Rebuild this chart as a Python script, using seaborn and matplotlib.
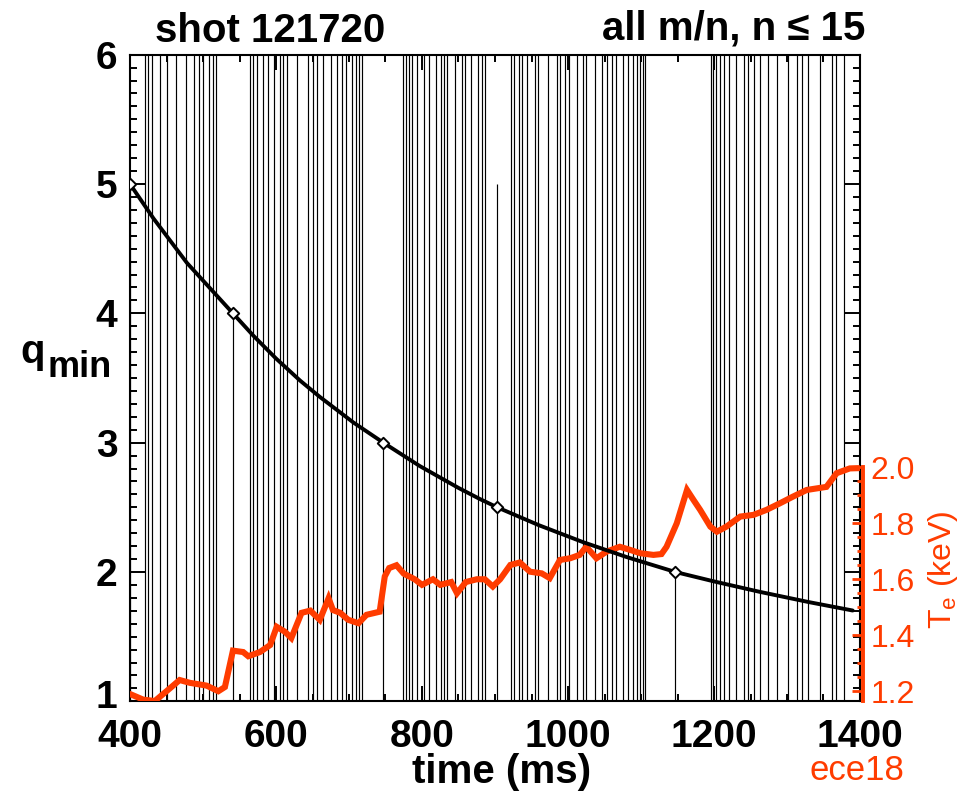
import numpy as np
import matplotlib
matplotlib.use("Agg")
import matplotlib.pyplot as plt
import matplotlib.transforms as mtransforms
import seaborn as sns
from matplotlib.ticker import MultipleLocator, FixedLocator
from math import gcd

# ---------------- data ----------------
# q_min(t) curve
q_time = [400, 432, 478, 541, 569, 600, 633, 660, 706, 747, 797, 850, 879, 903,
          960, 1020, 1080, 1147, 1200, 1263, 1330, 1390]
q_vals = [5.0, 4.735, 4.39, 4.0, 3.827, 3.651, 3.48, 3.354, 3.156, 3.0, 2.819,
          2.65, 2.565, 2.5, 2.362, 2.232, 2.116, 2.0, 1.927, 1.846, 1.767, 1.702]

# marked low-order rational surfaces on the curve
diamond_time = [400, 541, 747, 903, 1147]
diamond_q = [5.0, 4.0, 3.0, 2.5, 2.0]

# rational surfaces m/n drawn as vertical lines ("all m/n, n <= 15")
mode_n_max = 15
mode_m_max = 30

# electron temperature trace (ece18)
te_time = [400, 418, 434, 450, 468, 482, 505, 521, 530, 541,
           555, 562, 578, 592, 601, 612, 621, 635, 647, 660,
           672, 678, 688, 699, 713, 724, 742, 749, 755, 765,
           775, 790, 800, 815, 825, 840, 848, 860, 875, 886,
           897, 907, 921, 934, 948, 964, 975, 989, 1003, 1016,
           1025, 1039, 1053, 1071, 1085, 1099, 1117, 1128, 1135, 1149,
           1163, 1172, 1181, 1195, 1204, 1217, 1236, 1254, 1272, 1290,
           1308, 1327, 1354, 1368, 1386, 1398]
te_vals = [1.19, 1.17, 1.165, 1.20, 1.24, 1.23, 1.22, 1.20, 1.215, 1.345,
           1.34, 1.325, 1.34, 1.365, 1.43, 1.413, 1.39, 1.48, 1.488, 1.455,
           1.532, 1.49, 1.48, 1.455, 1.443, 1.473, 1.484, 1.61, 1.64, 1.65,
           1.62, 1.60, 1.58, 1.60, 1.58, 1.59, 1.55, 1.59, 1.60, 1.60,
           1.574, 1.60, 1.651, 1.66, 1.627, 1.621, 1.604, 1.669, 1.675, 1.687,
           1.716, 1.675, 1.699, 1.716, 1.705, 1.693, 1.687, 1.69, 1.716, 1.80,
           1.919, 1.883, 1.848, 1.788, 1.77, 1.788, 1.824, 1.83, 1.848, 1.871,
           1.895, 1.919, 1.93, 1.979, 1.996, 1.997]

x_ticks = [400, 600, 800, 1000, 1200, 1400]
q_ticks = [1, 2, 3, 4, 5, 6]
te_ticks = [1.2, 1.4, 1.6, 1.8, 2.0]
te_tick_labels = ["1.2", "1.4", "1.6", "1.8", "2.0"]

ORANGE = "#ff3c00"

# ---------------- style ----------------
sns.set_style("ticks")
plt.rcParams["font.family"] = ["Liberation Sans", "DejaVu Sans"]
plt.rcParams["mathtext.default"] = "regular"
for key in ("text.color", "axes.labelcolor", "xtick.color", "ytick.color",
            "axes.edgecolor"):
    plt.rcParams[key] = "black"

W, H = 967, 794
fig = plt.figure(figsize=(W / 100, H / 100), dpi=100)
L, R, B, T = 130 / W, 860 / W, 1 - 701.3 / H, 1 - 54.7 / H
ax = fig.add_axes([L, B, R - L, T - B])
ax2 = ax.twinx()
ax3 = fig.add_axes([L, B, R - L, T - B], sharex=ax, sharey=ax)

# ---------------- vertical rational-surface lines ----------------
modes = [(m, n) for n in range(1, mode_n_max + 1)
         for m in range(1, mode_m_max + 1) if gcd(m, n) == 1]
mode_q = np.array([m / n for m, n in modes])
mode_m = np.array([m for m, n in modes])
sel = (mode_q >= min(q_vals)) & (mode_q <= max(q_vals))
mode_t = np.interp(mode_q[sel], q_vals[::-1], q_time[::-1])
mode_top = np.minimum(mode_m[sel], 6)
ax.vlines(mode_t, 1, mode_top, color="black", lw=0.85, zorder=1)

# ---------------- Te trace ----------------
sns.lineplot(x=te_time, y=te_vals, ax=ax2, color=ORANGE, lw=4.4,
             estimator=None, sort=False)
ax2.lines[-1].set_solid_joinstyle("miter")

# ---------------- q_min curve ----------------
sns.lineplot(x=q_time, y=q_vals, ax=ax3, color="black", lw=2.8,
             estimator=None, sort=False)
sns.scatterplot(x=diamond_time, y=diamond_q, ax=ax3, marker="D", s=34,
                color="white", edgecolor="black", linewidth=1.4, zorder=5)
ax3.patch.set_visible(False)
ax3.set_axis_off()

# ---------------- limits ----------------
ax.set_xlim(400, 1400)
ax.set_ylim(1, 6)
ax2.set_ylim(1.164, 3.474)
for a in (ax, ax2, ax3):
    a.set_xlabel("")
    a.set_ylabel("")

# ---------------- main axis ticks ----------------
ax.xaxis.set_major_locator(FixedLocator(x_ticks))
ax.xaxis.set_minor_locator(MultipleLocator(50))
ax.yaxis.set_major_locator(FixedLocator(q_ticks))
ax.yaxis.set_minor_locator(MultipleLocator(0.1))
ax.tick_params(which="both", direction="in", top=True, right=True,
               bottom=True, left=True, labelright=False, labeltop=False,
               width=1.4, color="black", labelcolor="black")
ax.tick_params(which="major", length=11, labelsize=28)
ax.tick_params(which="minor", length=5)
ax.tick_params(axis="y", which="major", pad=9)
ax.tick_params(axis="x", which="major", pad=13)
for lbl in ax.get_xticklabels() + ax.get_yticklabels():
    lbl.set_fontweight("bold")
for s in ax.spines.values():
    s.set_linewidth(1.5)
    s.set_color("black")
# lift the lowest q label slightly, as in the reference
first = ax.yaxis.get_major_ticks()[0].label1
first.set_transform(first.get_transform() +
                    mtransforms.ScaledTranslation(0, 5 / 72, fig.dpi_scale_trans))

# ---------------- Te axis ----------------
ax2.yaxis.set_major_locator(FixedLocator(te_ticks))
ax2.yaxis.set_minor_locator(FixedLocator(np.arange(1.2, 2.0001, 0.05)))
ax2.set_yticklabels(te_tick_labels)
ax2.tick_params(axis="y", which="both", direction="in", colors=ORANGE,
                width=2, labelsize=23, pad=5)
ax2.tick_params(axis="y", which="major", length=8)
ax2.tick_params(axis="y", which="minor", length=4)
for side in ("top", "left", "bottom"):
    ax2.spines[side].set_visible(False)
ax2.spines["right"].set_color(ORANGE)
ax2.spines["right"].set_linewidth(2.8)
ax2.spines["right"].set_bounds(1.164, 2.0)
ax2.spines["right"].set_position(("outward", 2.5))

# ---------------- texts ----------------
fig.text(270 / W, 1 - 41.5 / H, "shot 121720", ha="center", va="baseline",
         fontsize=29, fontweight="bold", color="black")
fig.text(865 / W, 1 - 40 / H, "all m/n, n \u2264 15", ha="right",
         va="baseline", fontsize=29, fontweight="bold", color="black")
fig.text(502 / W, 1 - 783 / H, "time (ms)", ha="center", va="baseline",
         fontsize=29, fontweight="bold", color="black")
fig.text(857 / W, 1 - 780 / H, "ece18", ha="center", va="baseline",
         fontsize=25, color=ORANGE)
fig.text(20 / W, 1 - 363 / H, "q", ha="left", va="baseline",
         fontsize=29, fontweight="bold", color="black")
fig.text(48 / W, 1 - 377 / H, "min", ha="left", va="baseline",
         fontsize=26, fontweight="bold", color="black")
fig.text(943 / W, 1 - 570 / H, "T$_e$ (keV)", ha="center", va="center",
         rotation=90, fontsize=23, color=ORANGE)

fig.savefig("out.png", dpi=100)
